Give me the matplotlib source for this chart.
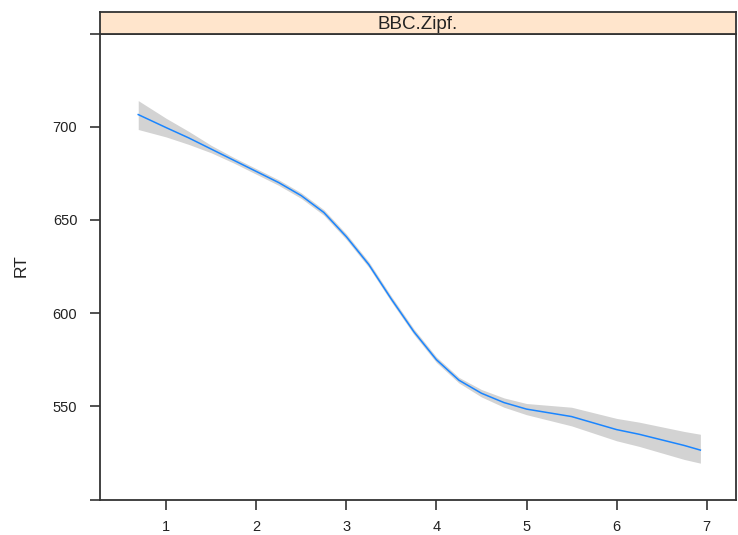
import matplotlib
matplotlib.use("Agg")
import matplotlib.pyplot as plt
import numpy as np

plt.rcParams['font.family'] = ['Liberation Sans', 'DejaVu Sans']

# Data
zipf = [0.69, 1.0, 1.25, 1.5, 1.75, 2.0, 2.25, 2.5, 2.75, 3.0, 3.25, 3.5, 3.75, 4.0, 4.25, 4.5, 4.75, 5.0, 5.25, 5.5, 5.75, 6.0, 6.25, 6.5, 6.75, 6.93]
rt_fit = [706.5, 699.5, 694.0, 688.0, 682.0, 676.0, 670.0, 663.0, 654.0, 641.0, 626.0, 607.5, 590.0, 575.0, 564.0, 557.0, 552.0, 548.5, 546.5, 544.5, 541.0, 537.5, 535.0, 532.0, 529.0, 526.5]
rt_lower = [698.5, 694.5, 690.5, 686.0, 680.5, 674.5, 668.5, 661.5, 652.5, 639.5, 624.5, 606.0, 588.5, 573.5, 562.5, 555.0, 549.5, 545.5, 542.5, 539.5, 535.5, 531.5, 528.5, 525.0, 521.5, 519.5]
rt_upper = [714.0, 704.5, 697.5, 690.0, 683.5, 677.5, 671.5, 664.5, 655.5, 642.5, 627.5, 609.0, 591.5, 576.5, 565.5, 559.0, 554.5, 551.5, 550.5, 549.5, 546.5, 543.5, 541.5, 539.0, 536.5, 535.0]
x_ticks = [1, 2, 3, 4, 5, 6, 7]
y_ticks = [500, 550, 600, 650, 700, 750]
y_ticklabels = ['', '550', '600', '650', '700', '']
strip_label = 'BBC.Zipf.'
y_label = 'RT'

W, H = 738, 535
fig = plt.figure(figsize=(W / 100, H / 100), dpi=100)

left, right, top, bottom = 99.5, 735.5, 33.5, 499.5
ax = fig.add_axes([left / W, 1 - bottom / H, (right - left) / W, (bottom - top) / H])
ax.fill_between(zipf, rt_lower, rt_upper, color='#d3d3d3', linewidth=0)
ax.plot(zipf, rt_fit, color='#1a85ff', linewidth=1.1)
ax.set_xlim(0.26, 7.32)
ax.set_ylim(500, 750)

for s in ax.spines.values():
    s.set_linewidth(1.3)
    s.set_color('#333333')

ax.set_xticks(x_ticks)
ax.set_xticklabels([str(t) for t in x_ticks])
ax.set_yticks(y_ticks)
ax.set_yticklabels(y_ticklabels)
ax.tick_params(axis='both', direction='out', length=7.5, width=1.2, color='#333333',
               labelsize=10.5, labelcolor='#222222')
ax.tick_params(axis='y', pad=8.5)
ax.tick_params(axis='x', pad=7.5)
fig.text(21 / W, 1 - 266 / H, y_label, rotation=90, ha='center', va='center',
         fontsize=12.5, color='#222222')

# strip
st_top = 12
sax = fig.add_axes([left / W, 1 - top / H, (right - left) / W, (top - st_top) / H])
sax.set_facecolor('#ffe5cc')
sax.set_xticks([])
sax.set_yticks([])
for s in sax.spines.values():
    s.set_linewidth(1.3)
    s.set_color('#333333')
sax.text(0.5, 0.42, strip_label, ha='center', va='center', fontsize=13.5,
         color='#222222', transform=sax.transAxes)

fig.savefig('out.png', dpi=100)
